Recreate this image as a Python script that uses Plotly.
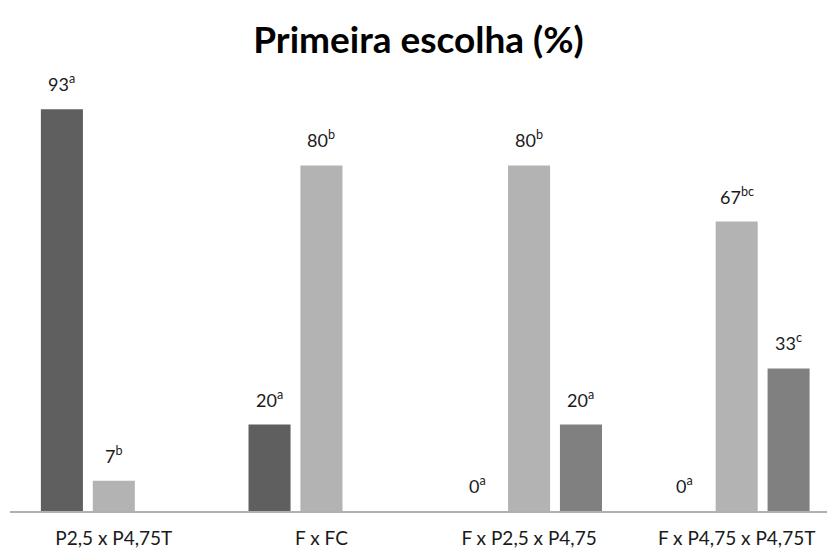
import plotly.graph_objects as go

categories = ["P2,5 x P4,75T", "F x FC", "F x P2,5 x P4,75", "F x P4,75 x P4,75T"]

series_a = [93, 20, 0, 0]
series_b = [7, 80, 80, 67]
series_c = [None, None, 20, 33]

letters_a = ["a", "a", "a", "a"]
letters_b = ["b", "b", "b", "bc"]
letters_c = [None, None, "a", "c"]

colors = ["#5f5f5f", "#b3b3b3", "#808080"]
FONT = "Lato, 'Open Sans', sans-serif"

x_idx = list(range(len(categories)))
fig = go.Figure()

series = [series_a, series_b, series_c]
letters = [letters_a, letters_b, letters_c]
for vals, col in zip(series, colors):
    fig.add_trace(go.Bar(x=x_idx, y=vals, marker=dict(color=col, line=dict(width=0)),
                         hoverinfo="skip"))

# value labels above each bar
slot = 0.25
for s, (vals, lets) in enumerate(zip(series, letters)):
    off = (s - 1) * slot
    for i, (v, l) in enumerate(zip(vals, lets)):
        if v is None:
            continue
        fig.add_annotation(x=i + off, y=v, text=f"{v}<sup>{l}</sup>",
                           showarrow=False, yanchor="bottom", yshift=12,
                           font=dict(family=FONT, size=18, color="#1a1a1a"))

fig.update_layout(
    width=827, height=548,
    margin=dict(l=10, r=0, t=79, b=37),
    paper_bgcolor="white", plot_bgcolor="white",
    barmode="group", bargap=0.25, bargroupgap=0.19,
    showlegend=False,
    title=dict(text="<b>Primeira escolha (%)</b>", x=0.5, xanchor="center",
               y=0.927, yanchor="middle", xref="paper",
               font=dict(family=FONT, size=37, color="#000000")),
    font=dict(family=FONT, size=18, color="#1a1a1a"),
)
fig.update_xaxes(range=[-0.5, 3.435], tickvals=x_idx, ticktext=categories,
                 showgrid=False, zeroline=False, showline=True,
                 linecolor="#b0b0b0", linewidth=1.5, ticks="",
                 ticklabelstandoff=9,
                 tickfont=dict(family=FONT, size=19, color="#1a1a1a"))
fig.update_yaxes(range=[0, 100], visible=False, showgrid=False, zeroline=False)

fig.write_html("out.html")
